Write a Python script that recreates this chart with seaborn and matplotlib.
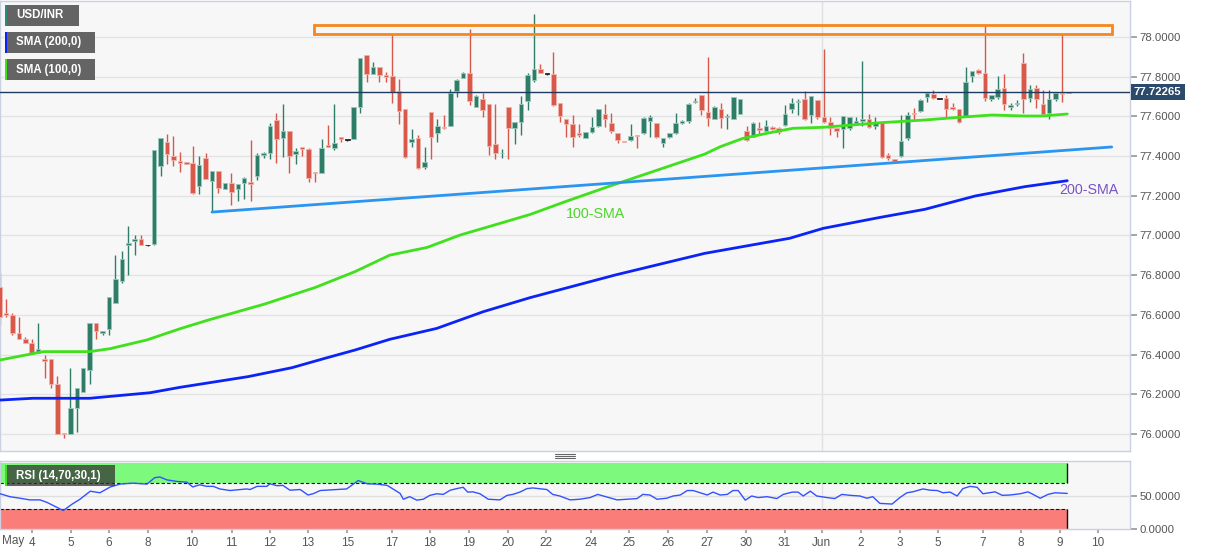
import matplotlib
matplotlib.use("Agg")
import matplotlib.pyplot as plt
from matplotlib.patches import Rectangle
from matplotlib.lines import Line2D
import matplotlib.transforms as mtransforms
import numpy as np
import pandas as pd
import seaborn as sns

# ---- 4H candles USD/INR ----
opens = [76.74, 76.61, 76.60, 76.51, 76.48, 76.46, 76.41, 76.38, 76.38, 76.25,
         76.003, 76.00, 76.13, 76.21, 76.32, 76.56, 76.51, 76.53, 76.66, 76.77,
         76.95, 76.97, 76.98, 76.95, 76.955, 77.35, 77.47, 77.40, 77.375, 77.368,
         77.364, 77.249, 77.389, 77.276, 77.326, 77.236, 77.266, 77.236, 77.263, 77.271,
         77.30, 77.407, 77.417, 77.582, 77.49, 77.526, 77.409, 77.444, 77.437, 77.318,
         77.313, 77.454, 77.44, 77.496, 77.48, 77.484, 77.649, 77.909, 77.814, 77.85,
         77.81, 77.803, 77.73, 77.636, 77.47, 77.493, 77.343, 77.62, 77.518, 77.548,
         77.553, 77.73, 77.795, 77.817, 77.646, 77.689, 77.661, 77.461, 77.414, 77.649,
         77.54, 77.573, 77.679, 77.783, 77.837, 77.813, 77.814, 77.67, 77.587, 77.562,
         77.515, 77.493, 77.523, 77.551, 77.612, 77.565, 77.515, 77.477, 77.481, 77.506,
         77.515, 77.578, 77.565, 77.468, 77.495, 77.515, 77.565, 77.578, 77.674, 77.708,
         77.624, 77.587, 77.635, 77.595, 77.587, 77.612, 77.526, 77.498, 77.541, 77.528,
         77.545, 77.54, 77.557, 77.636, 77.672, 77.686, 77.607, 77.683, 77.595, 77.57,
         77.543, 77.535, 77.54, 77.568, 77.578, 77.585, 77.551, 77.565, 77.404, 77.384,
         77.40, 77.49, 77.615, 77.627, 77.699, 77.713, 77.688, 77.691, 77.645, 77.635,
         77.598, 77.803, 77.834, 77.82, 77.688, 77.699, 77.745, 77.645, 77.662, 77.867,
         77.694, 77.741, 77.662, 77.619, 77.686, 77.718, 77.718]
highs = [76.81, 76.68, 76.61, 76.59, 76.49, 76.48, 76.56, 76.40, 76.38, 76.29,
         76.003, 76.33, 76.23, 76.33, 76.56, 76.56, 76.52, 76.69, 76.90, 76.92,
         77.05, 77.00, 77.00, 76.953, 77.43, 77.49, 77.51, 77.50, 77.42, 77.37,
         77.45, 77.40, 77.414, 77.326, 77.326, 77.266, 77.313, 77.259, 77.296, 77.481,
         77.414, 77.42, 77.568, 77.619, 77.661, 77.526, 77.439, 77.447, 77.441, 77.318,
         77.486, 77.557, 77.661, 77.496, 77.482, 77.649, 77.892, 77.909, 77.876, 77.85,
         77.825, 78.019, 77.787, 77.636, 77.535, 77.506, 77.447, 77.62, 77.587, 77.607,
         77.736, 77.786, 77.825, 78.039, 77.708, 77.716, 77.661, 77.661, 77.434, 77.649,
         77.57, 77.703, 77.82, 78.116, 77.862, 77.815, 77.923, 77.67, 77.587, 77.607,
         77.562, 77.523, 77.599, 77.635, 77.661, 77.615, 77.515, 77.477, 77.562, 77.506,
         77.595, 77.607, 77.565, 77.493, 77.515, 77.619, 77.58, 77.669, 77.695, 77.708,
         77.898, 77.652, 77.666, 77.612, 77.696, 77.69, 77.552, 77.57, 77.57, 77.582,
         77.552, 77.548, 77.657, 77.691, 77.686, 77.73, 77.703, 77.683, 77.938, 77.599,
         77.543, 77.601, 77.598, 77.598, 77.881, 77.61, 77.595, 77.565, 77.417, 77.385,
         77.607, 77.624, 77.64, 77.686, 77.72, 77.733, 77.69, 77.708, 77.666, 77.635,
         77.847, 77.83, 77.837, 78.06, 77.706, 77.803, 77.814, 77.666, 77.683, 77.918,
         77.758, 77.758, 77.733, 77.733, 77.72, 78.015, 77.723]
lows = [76.55, 76.59, 76.50, 76.48, 76.46, 76.41, 76.41, 76.28, 76.23, 76.00,
        75.98, 76.00, 76.01, 76.21, 76.25, 76.48, 76.50, 76.50, 76.66, 76.76,
        76.80, 76.90, 76.95, 76.947, 76.95, 77.30, 77.36, 77.35, 77.32, 77.358,
        77.209, 77.209, 77.285, 77.118, 77.216, 77.236, 77.154, 77.174, 77.182, 77.172,
        77.279, 77.389, 77.384, 77.364, 77.397, 77.313, 77.36, 77.402, 77.271, 77.271,
        77.313, 77.444, 77.43, 77.473, 77.478, 77.484, 77.615, 77.775, 77.814, 77.775,
        77.775, 77.666, 77.562, 77.39, 77.447, 77.333, 77.333, 77.384, 77.473, 77.535,
        77.553, 77.70, 77.795, 77.657, 77.646, 77.599, 77.405, 77.384, 77.389, 77.384,
        77.461, 77.506, 77.632, 77.775, 77.817, 77.811, 77.652, 77.57, 77.495, 77.444,
        77.495, 77.493, 77.515, 77.548, 77.548, 77.515, 77.468, 77.47, 77.478, 77.44,
        77.511, 77.495, 77.49, 77.444, 77.49, 77.511, 77.56, 77.565, 77.666, 77.607,
        77.552, 77.585, 77.54, 77.535, 77.585, 77.61, 77.477, 77.495, 77.51, 77.523,
        77.531, 77.511, 77.552, 77.619, 77.607, 77.582, 77.565, 77.585, 77.565, 77.506,
        77.495, 77.439, 77.531, 77.562, 77.553, 77.54, 77.535, 77.389, 77.38, 77.375,
        77.397, 77.481, 77.582, 77.624, 77.674, 77.686, 77.686, 77.598, 77.632, 77.565,
        77.595, 77.775, 77.814, 77.679, 77.679, 77.686, 77.632, 77.632, 77.652, 77.619,
        77.674, 77.641, 77.607, 77.585, 77.678, 77.674, 77.718]
closes = [76.59, 76.60, 76.51, 76.48, 76.46, 76.41, 76.43, 76.37, 76.25, 76.00,
          75.998, 76.13, 76.23, 76.33, 76.56, 76.52, 76.52, 76.69, 76.78, 76.88,
          76.96, 76.98, 76.95, 76.95, 77.43, 77.49, 77.41, 77.38, 77.366, 77.36,
          77.212, 77.355, 77.285, 77.326, 77.237, 77.266, 77.221, 77.259, 77.288, 77.258,
          77.405, 77.417, 77.553, 77.484, 77.526, 77.402, 77.426, 77.437, 77.291, 77.313,
          77.442, 77.444, 77.464, 77.484, 77.48, 77.649, 77.892, 77.814, 77.85, 77.809,
          77.80, 77.724, 77.629, 77.397, 77.486, 77.338, 77.368, 77.498, 77.552, 77.54,
          77.716, 77.783, 77.817, 77.679, 77.703, 77.632, 77.453, 77.414, 77.418, 77.54,
          77.57, 77.662, 77.807, 77.839, 77.817, 77.813, 77.657, 77.602, 77.56, 77.495,
          77.506, 77.523, 77.545, 77.635, 77.585, 77.528, 77.481, 77.473, 77.503, 77.503,
          77.59, 77.595, 77.495, 77.493, 77.515, 77.565, 77.578, 77.662, 77.679, 77.63,
          77.59, 77.645, 77.59, 77.601, 77.696, 77.688, 77.481, 77.568, 77.531, 77.553,
          77.538, 77.523, 77.612, 77.669, 77.679, 77.585, 77.703, 77.598, 77.573, 77.54,
          77.528, 77.601, 77.598, 77.578, 77.587, 77.545, 77.568, 77.397, 77.39, 77.377,
          77.476, 77.607, 77.61, 77.683, 77.716, 77.691, 77.688, 77.639, 77.639, 77.573,
          77.775, 77.828, 77.817, 77.691, 77.706, 77.736, 77.661, 77.656, 77.669, 77.686,
          77.736, 77.686, 77.612, 77.686, 77.72, 77.713, 77.7227]
last_price = 77.72265

# moving averages, sampled along the candle index
sma100_t = [0.1, 6.8, 14.0, 17.2, 22.9, 28.0, 32.4, 41.2, 49.0, 55.2, 60.6, 66.4, 71.5, 77.7,
            82.4, 87.8, 94.5, 102.2, 109.5, 111.9, 115.4, 119.2, 123.2, 127.9, 136.7, 143.7,
            148.8, 154.1, 159.2, 161.9, 165.8]
sma100_v = [76.373, 76.415, 76.415, 76.43, 76.474, 76.53, 76.574, 76.655, 76.738, 76.818,
            76.901, 76.94, 77.002, 77.061, 77.106, 77.17, 77.246, 77.33, 77.41, 77.447,
            77.489, 77.515, 77.54, 77.545, 77.568, 77.582, 77.595, 77.607, 77.602, 77.602,
            77.612]
sma200_t = [0.1, 5.2, 14.0, 23.4, 28.0, 38.6, 45.4, 50.5, 55.2, 60.6, 67.9, 75.1, 82.4,
            95.6, 109.5, 122.7, 127.9, 136.7, 143.7, 151.5, 159.2, 165.8]
sma200_v = [76.171, 76.18, 76.18, 76.208, 76.235, 76.289, 76.334, 76.381, 76.423, 76.477,
            76.532, 76.616, 76.687, 76.801, 76.91, 76.986, 77.036, 77.091, 77.132, 77.199,
            77.246, 77.276]

# drawn objects: support trendline and resistance zone
trend_t = [33.0, 172.7]
trend_v = [77.118, 77.446]
zone_t = [48.9, 172.7]
zone_v = [78.015, 78.062]

# RSI (14)
rsi_t = [0.1, 1.6, 3.2, 4.7, 6.3, 7.4, 8.9, 9.9, 11.3, 12.5,
         14.1, 15.6, 17.2, 18.7, 20.7, 22.9, 24.1, 24.9, 26.0, 27.6,
         29.1, 30.0, 31.1, 32.2, 33.2, 34.2, 35.8, 38.4, 38.9, 40.0,
         41.5, 42.0, 43.1, 44.0, 45.1, 46.7, 47.9, 48.7, 49.8, 53.9,
         55.7, 57.1, 58.6, 60.2, 62.2, 62.7, 63.7, 64.8, 65.8, 66.8,
         67.9, 68.9, 70.0, 71.0, 72.0, 72.7, 73.5, 74.6, 75.9, 77.7,
         78.8, 79.7, 80.8, 81.9, 82.8, 85.0, 85.9, 87.0, 88.6, 90.1,
         91.7, 92.9, 94.3, 95.9, 97.4, 99.0, 99.9, 101.0, 102.1, 103.6,
         104.6, 105.7, 106.8, 107.7, 108.8, 109.9, 110.8, 111.9, 113.0, 113.9,
         114.7, 115.8, 116.8, 117.8, 119.2, 120.7, 121.7, 123.1, 124.0, 124.8,
         125.9, 126.9, 128.5, 129.7, 130.8, 132.1, 133.6, 134.7, 135.6, 136.7,
         138.6, 139.8, 140.9, 141.8, 143.4, 144.5, 145.6, 146.5, 147.6, 148.7,
         149.6, 150.7, 151.8, 152.7, 154.6, 155.7, 156.9, 158.5, 159.7, 160.5,
         161.6, 162.8, 163.9, 165.8]
rsi_v = [53.4, 49, 46.6, 44.1, 44.1, 40.2, 32.9, 28, 37.8, 45.1,
         57.3, 54.9, 63.7, 68, 69.5, 68, 77.8, 78.8, 74.4, 72,
         71, 63.7, 67, 64.6, 64.6, 60.7, 58.3, 60.7, 59.8, 64.6,
         64.6, 68.5, 65.6, 66.1, 58.8, 59.8, 51.5, 53.4, 58.3, 60.7,
         73.4, 68.5, 68, 66.1, 54, 45.1, 49, 43.7, 45.1, 50.9,
         53.4, 52.4, 58.8, 61.2, 63.2, 55.9, 56.3, 53.4, 45.1, 44.1,
         50.9, 52.4, 55.9, 61.2, 62.2, 59.8, 52.4, 50, 44.1, 45.1,
         47.6, 52.4, 48.5, 44.1, 45.1, 46.1, 52.4, 51.5, 45.1, 46.6,
         50, 51.5, 58.3, 58.3, 54.9, 51.5, 55.9, 51.5, 52.4, 58.3,
         58.3, 43.7, 50, 47.6, 49, 46.1, 52.4, 55.9, 55.9, 50,
         57.3, 50, 47.6, 46.1, 52.4, 51, 50, 46.6, 49, 38.8,
         37.8, 47.6, 54.9, 56.3, 60.7, 58.8, 58.3, 54.9, 55.9, 50,
         61.2, 64.6, 63.2, 53.4, 56.3, 51, 51.5, 53.4, 56.3, 52.4,
         46.6, 52.4, 54.9, 53.9]

# date axis
tick_pos = [5.05, 11.05, 17.0, 23.0, 29.9, 36.05, 42.0, 47.9, 54.0, 60.95, 66.85, 72.9,
            78.9, 84.9, 91.85, 97.75, 103.8, 109.8, 115.9, 121.9, 127.7, 133.7, 139.8,
            145.7, 152.7, 158.6, 164.7, 170.6]
tick_labels = ["4", "5", "6", "8", "10", "11", "12", "13", "15", "17", "18", "19", "20",
               "22", "24", "25", "26", "27", "30", "31", "Jun", "2", "3", "5", "7", "8",
               "9", "10"]
month_start = 127.7

GREEN = "#2f7d68"
RED = "#d8584a"
W, H = 1207, 555
PX = 198.5  # pixels per rupee on the price axis

sns.set_theme(style="white")
plt.rcParams["font.family"] = ["Liberation Sans", "DejaVu Sans"]

fig = plt.figure(figsize=(W / 100, H / 100), dpi=100, facecolor="white")


def rect(x0, y0, x1, y1):
    return [x0 / W, 1 - y1 / H, (x1 - x0) / W, (y1 - y0) / H]


ax = fig.add_axes(rect(0, 1, 1130, 451))
ax2 = fig.add_axes(rect(0, 461, 1130, 529))
xlim = (0.5 / 6.44, 1130.5 / 6.44)

for a in (ax, ax2):
    a.set_facecolor("#f7f7f7")
    for s in a.spines.values():
        s.set_color("#c9d0df")
        s.set_linewidth(1)
    a.set_xlim(*xlim)
    a.yaxis.tick_right()
    a.tick_params(axis="y", labelsize=8.2, labelcolor="#555555", color="#9a9a9a",
                  length=5, pad=2, right=True, left=False)
    a.axvline(month_start, color="#e0e0e0", lw=1, zorder=0)

# ---- main price panel ----
df = pd.DataFrame({"open": opens, "high": highs, "low": lows, "close": closes})
df["i"] = np.arange(len(df))
up = df["close"] > df["open"]
down = df["close"] < df["open"]
cols = np.where(up, GREEN, np.where(down, RED, "#222222"))
edges = np.where(up, "#9cc9bb", np.where(down, "#efb4ab", "#222222"))

ax.set_ylim(78.0 - (451 - 37) / PX, 78.0 + 36 / PX)
ax.set_yticks(np.round(np.arange(76.0, 78.01, 0.2), 1))
ax.yaxis.set_major_formatter(matplotlib.ticker.FormatStrFormatter("%.4f"))
ax.grid(axis="y", color="#e3e3e3", lw=1)
ax.set_axisbelow(True)
ax.set_xticks([])

ax.vlines(df["i"], df["low"], df["high"], colors=cols, lw=1, zorder=2)
body = (df["close"] - df["open"]).abs().clip(lower=0.004)
ax.bar(df["i"], body, bottom=np.minimum(df["open"], df["close"]), width=0.7,
       color=cols, edgecolor=edges, linewidth=0.6, zorder=3)

sns.lineplot(x=sma100_t, y=sma100_v, ax=ax, color="#3fe01c", lw=2, zorder=4)
sns.lineplot(x=sma200_t, y=sma200_v, ax=ax, color="#0b24f5", lw=2, zorder=4)
sns.lineplot(x=trend_t, y=trend_v, ax=ax, color="#2b95f0", lw=2, zorder=4)
ax.add_patch(Rectangle((zone_t[0], zone_v[0]), zone_t[1] - zone_t[0], zone_v[1] - zone_v[0],
                       fill=False, edgecolor="#f7861c", lw=2, zorder=5))
ax.axhline(last_price, color="#1f3b60", lw=1, zorder=5)

ax.text(92.5, 77.108, "100-SMA", color="#4cd62a", fontsize=10.3, ha="center", va="center")
ax.text(169.2, 77.229, "200-SMA", color="#7a52c7", fontsize=10.3, ha="center", va="center")

tr = mtransforms.blended_transform_factory(ax.transAxes, ax.transData)
ax.text(1.0035, last_price, f"{last_price:.5f}", transform=tr, color="white", fontsize=8.2,
        fontweight="bold", ha="left", va="center",
        bbox=dict(boxstyle="square,pad=0.3", fc="#2c4a6c", ec="none"), zorder=10)

# ---- RSI panel ----
ax2.set_ylim(0, 100 * 68 / 66)
ax2.set_yticks([0, 50])
ax2.yaxis.set_major_formatter(matplotlib.ticker.FormatStrFormatter("%.4f"))
ax2.axhline(50, color="#e0e0e0", lw=1, zorder=0)
rsi_end = 165.8
band_x = [xlim[0], rsi_end]
ax2.fill_between(band_x, 70, 100, color="#7dfa7d", lw=0, zorder=1)
ax2.fill_between(band_x, 0, 30, color="#fa7d7a", lw=0, zorder=1)
for lvl in (70, 30):
    ax2.plot(band_x, [lvl, lvl], color="#111111", lw=0.8, ls=(0, (3, 2)), zorder=2)
ax2.vlines([rsi_end, rsi_end], [0, 70], [30, 100], color="#111111", lw=1, zorder=2)
sns.lineplot(x=rsi_t, y=rsi_v, ax=ax2, color="#3352ff", lw=1, zorder=3)
ax2.set_xticks(tick_pos)
ax2.set_xticklabels(tick_labels)
ax2.tick_params(axis="x", labelsize=8.5, labelcolor="#555555", color="#9a9a9a",
                length=3, pad=3, bottom=True)
ax2.set_xlabel("")
ax2.set_ylabel("")
ax.set_xlabel("")
ax.set_ylabel("")
fig.text(2 / W, 1 - 541 / H, "May", fontsize=8.5, color="#555555", ha="left", va="center")

# ---- legend tags ----
def tag(x0, y0, x1, y1, text, stripe, fc="#5c5c5c", alpha=0.95):
    fig.add_artist(Rectangle((x0 / W, 1 - y1 / H), (x1 - x0) / W, (y1 - y0) / H,
                             transform=fig.transFigure, fc=fc, alpha=alpha, ec="none",
                             zorder=10))
    fig.add_artist(Rectangle((x0 / W, 1 - y1 / H), 2 / W, (y1 - y0) / H,
                             transform=fig.transFigure, fc=stripe, ec="none", zorder=11))
    fig.text((x0 + 11) / W, 1 - (y0 + y1) / 2 / H, text, color="white", fontsize=8.3,
             fontweight="bold", ha="left", va="center", zorder=12)


tag(5, 5, 79, 26, "USD/INR", "#2e8b7a")
tag(5, 32, 95, 53, "SMA (200,0)", "#0b24f5")
tag(5, 59, 95, 80, "SMA (100,0)", "#3fe01c")
tag(5, 465, 115, 486, "RSI (14,70,30,1)", "#3fe01c", fc="#333333", alpha=0.75)

# panel grip
for yy in (454.3, 456.3, 458.3):
    fig.add_artist(Line2D([555 / W, 575 / W], [1 - yy / H] * 2, color="#666666", lw=0.8,
                          transform=fig.transFigure))

fig.savefig("out.png", dpi=100, facecolor="white")
